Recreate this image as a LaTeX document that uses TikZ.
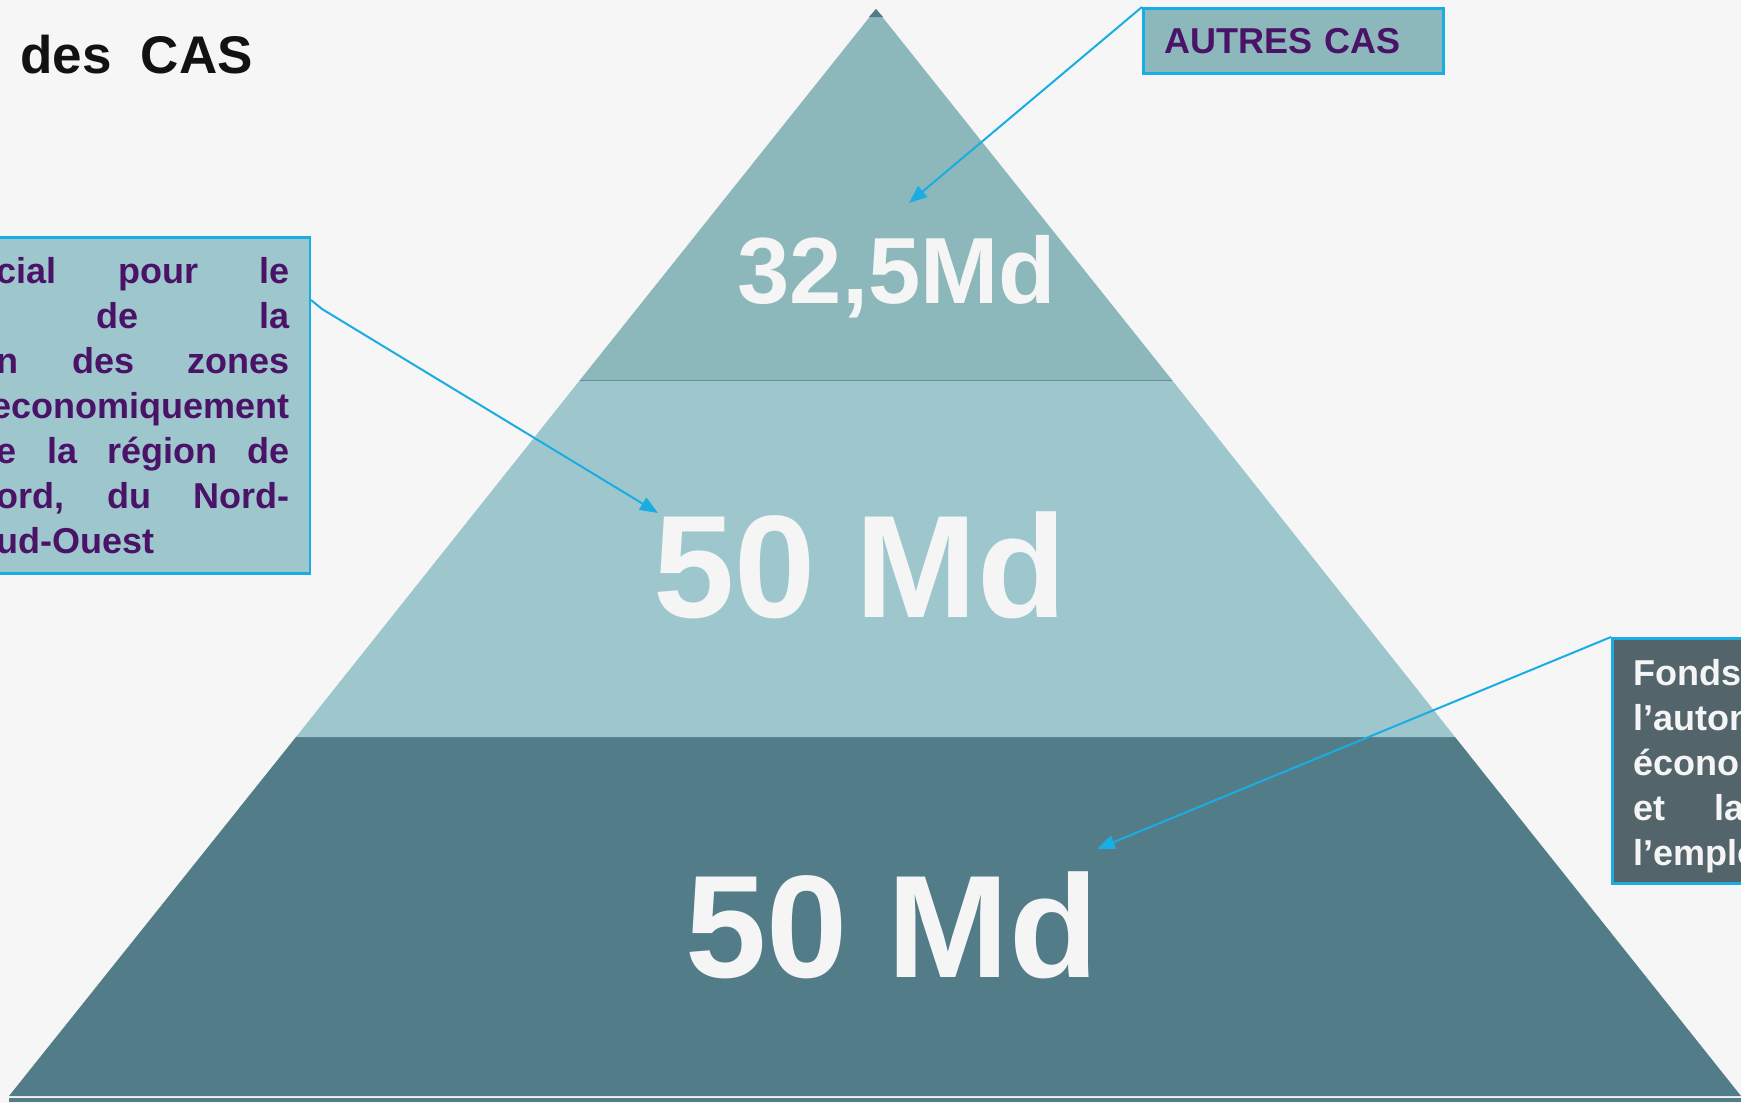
\documentclass[tikz,border=0pt]{standalone}
\usepackage{fontspec}
\setmainfont{Liberation Sans}
\usetikzlibrary{arrows.meta,positioning,calc}
\definecolor{bgc}{HTML}{F6F6F6}
\definecolor{tierA}{HTML}{8CB8BB}
\definecolor{tierB}{HTML}{9EC7CD}
\definecolor{tierC}{HTML}{527C88}
\definecolor{slate}{HTML}{53646B}
\definecolor{cyanb}{HTML}{1AADE4}
\definecolor{purp}{HTML}{4B1368}
\definecolor{numc}{HTML}{F5F5F5}
\tikzset{cbox/.style={draw=cyanb,line width=2.5pt,rectangle,inner sep=0pt,align=left,
execute at begin node={\setlength{\parindent}{0pt}\setlength{\parskip}{0pt}}},
callout/.style={draw=cyanb,line width=2pt,-{Triangle[length=18pt,width=14pt]}}}

\begin{document}
\begin{tikzpicture}[x=1pt,y=-1pt,
  amount/.style={text=numc,inner sep=0pt,anchor=base},
  lbl/.style={font=\bfseries\fontsize{36pt}{45pt}\selectfont}]
  \fill[bgc] (0,0) rectangle (1741,1103);
  \useasboundingbox (0,0) rectangle (1741,1103);
  \clip (0,0) rectangle (1741,1103);

  % pyramid tiers
  \coordinate (apex) at (876,9);
  \fill[tierC] (296,737) -- (1455,737) -- (1741,1096) -- (9,1096) -- cycle;
  \fill[tierB] (580,380) -- (1172,380) -- (1455,737) -- (296,737) -- cycle;
  \fill[tierA] (apex) -- (1172,380) -- (580,380) -- cycle;
  \fill[tierC] (apex) -- (883,17) -- (869,17) -- cycle;
  \draw[tierC!70!tierA,line width=1pt] (580,380) -- (1172,380);
  \fill[tierC] (9,1098) rectangle (1741,1102);

  \node[amount,font=\bfseries\fontsize{94pt}{100pt}\selectfont] (num1) at (897,303) {32,5Md};
  \node[amount,font=\bfseries\fontsize{146pt}{160pt}\selectfont] (num2) at (860,617) {50 Md};
  \node[amount,font=\bfseries\fontsize{146pt}{160pt}\selectfont] (num3) at (892,977) {50 Md};

  \node[anchor=base west,inner sep=0pt,text=black!93,font=\bfseries\fontsize{53pt}{60pt}\selectfont] (title) at (20,73) {des\ \ CAS};

  % boxes
  \node[cbox,fill=tierA,anchor=north west,minimum width=300pt,minimum height=65pt,
    text width=258pt,inner xsep=21pt,lbl,text=purp] (autres) at (1142,7) {AUTRES CAS};
  \node[cbox,fill=tierB,anchor=north east,minimum height=336pt,text width=293pt,
    inner xsep=20pt,lbl,text=purp] (zonebox) at (311,236)
    {cial\hfill pour\hfill le\\
     \hspace*{100pt}de\hfill la\\
     n\hfill des\hfill zones\\
     \makebox[293pt][r]{economiquement}\\
     e\hfill la\hfill région\hfill de\\
     ord,\hfill du\hfill Nord-\\
     ud-Ouest};
  \node[cbox,fill=slate,anchor=north west,minimum height=245pt,text width=200pt,
    inner xsep=21pt,lbl,text=numc] (fondsbox) at (1611,637)
    {\rule{0pt}{37pt}Fonds\\ l’auton\\ écono\\ et\hspace*{49pt}la\\ l’emplo};

  % callouts
  \coordinate (tipA) at (909,203);
  \coordinate (kink) at (322,309);
  \coordinate (tipB) at (658,513);
  \coordinate (tipC) at (1097,849);
  \draw[callout] (autres.north west) -- (tipA);
  \draw[callout] ([yshift=-64pt]zonebox.north east) -- (kink) -- (tipB);
  \draw[callout] (fondsbox.north west) -- (tipC);
\end{tikzpicture}
\end{document}
